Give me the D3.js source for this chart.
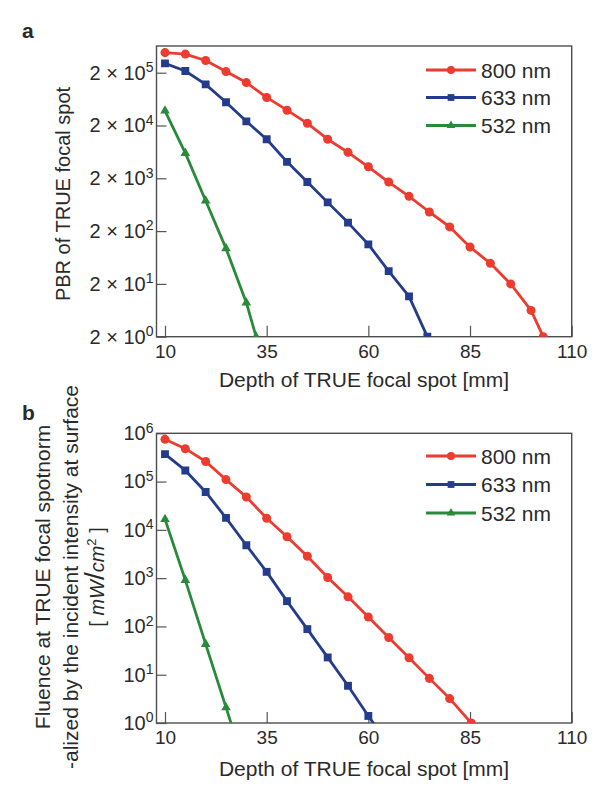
<!DOCTYPE html>
<html><head><meta charset="utf-8">
<script src="https://cdn.jsdelivr.net/npm/d3@7"></script>
<style>
body{margin:0;background:#fff}
svg{display:block}
text{font-family:"Liberation Sans",Arial,sans-serif;fill:#2a2a2a}
</style>
</head><body>
<svg id="chart" width="609" height="797"></svg>
<script>
// ---------- data ----------
const depthTicks = [10, 35, 60, 85, 110];
const seriesNames = ["800 nm", "633 nm", "532 nm"];
const seriesColors = ["#ec3b2f", "#243c8c", "#2a8a3b"];
const seriesShapes = ["circle", "square", "triangle"];

// panel a : PBR of TRUE focal spot
const pbrTickValues = [2, 20, 200, 2000, 20000, 200000];
const pbrTickExponents = ["0", "1", "2", "3", "4", "5"];
const depthA800 = [10,15,20,25,30,35,40,45,50,55,60,65,70,75,80,85,90,95,100,103];
const pbrA800 = [4.8e5,4.5e5,3.4e5,2.1e5,1.3e5,6.8e4,3.9e4,2.2e4,1.1e4,6.2e3,3.3e3,1.7e3,910,460,240,100,49,20,6.3,2];
const depthA633 = [10,15,20,25,30,35,40,45,50,55,60,65,70,74.5];
const pbrA633 = [3.0e5,2.15e5,1.2e5,5.5e4,2.4e4,1.1e4,4.1e3,1.7e3,700,290,112,35,11.6,2];
const depthA532 = [10,15,20,25,30,32.4];
const pbrA532 = [3.8e4,6.0e3,750,94,8.8,2];

// panel b : normalized fluence
const fluenceTickValues = [1, 10, 100, 1000, 1e4, 1e5, 1e6];
const fluenceTickExponents = ["0", "1", "2", "3", "4", "5", "6"];
const depthB800 = [10,15,20,25,30,35,40,45,50,55,60,65,70,75,80,85.3];
const fluenceB800 = [7.5e5,4.8e5,2.6e5,1.1e5,4.8e4,1.74e4,7.2e3,2.85e3,1.03e3,410,156,59,22.5,8.4,3.2,1];
const depthB633 = [10,15,20,25,30,35,40,45,50,55,60,65];
const fluenceB633 = [3.7e5,1.7e5,6.1e4,1.77e4,4.8e3,1.35e3,334,88,22.8,5.9,1.4,0.35];
const depthB532 = [10,15,20,25,30];
const fluenceB532 = [1.66e4,910,43,2.1,0.1];

// ---------- drawing ----------
const svg = d3.select("#chart");

function markerPath(shape, big) {
  const type = shape === "circle" ? d3.symbolCircle : shape === "square" ? d3.symbolSquare : d3.symbolTriangle;
  const size = shape === "circle" ? (big ? 64 : 50) : shape === "square" ? (big ? 62 : 46) : (big ? 40 : 32);
  return d3.symbol().type(type).size(size)();
}

function drawPanel(cfg) {
  const g = svg.append("g");
  const x = d3.scaleLinear().domain([10, 110]).range([165, 571.7]);
  const y = d3.scaleLog().domain(cfg.yDomain).range(cfg.yRange);
  const left = 156.5, right = 571.7, top = cfg.top, bottom = cfg.yRange[0];

  const clipId = "clip" + cfg.id;
  g.append("clipPath").attr("id", clipId)
    .append("rect").attr("x", left).attr("y", top).attr("width", right - left).attr("height", bottom - top);

  // axes (inward ticks)
  const xAxis = d3.axisBottom(x).tickValues(depthTicks).tickSizeInner(-11).tickSizeOuter(0).tickPadding(8);
  const gx = g.append("g").attr("transform", `translate(0,${bottom})`).call(xAxis);
  gx.select(".domain").remove();
  gx.selectAll("line").attr("stroke", "#555").attr("stroke-width", 1.2);
  gx.selectAll("text").attr("font-size", 19).attr("fill", "#2a2a2a")
    .attr("font-family", '"Liberation Sans",Arial,sans-serif');

  const yAxis = d3.axisLeft(y).tickValues(cfg.yTicks).tickSizeInner(-10).tickSizeOuter(0).tickPadding(3).tickFormat(() => "");
  const gy = g.append("g").attr("transform", `translate(${left},0)`).call(yAxis);
  gy.select(".domain").remove();
  gy.selectAll("line").attr("stroke", "#555").attr("stroke-width", 1.2);
  gy.selectAll(".tick text").each(function(d, i) {
    const t = d3.select(this).attr("font-size", 20).attr("fill", "#2a2a2a")
      .attr("font-family", '"Liberation Sans",Arial,sans-serif').attr("x", -3).attr("dy", "0.32em");
    t.text(null);
    t.append("tspan").text(cfg.tickPrefix + "10");
    t.append("tspan").attr("font-size", 14).attr("dy", "-0.55em").text(cfg.yExps[i]);
  });

  // frame
  g.append("rect").attr("x", left).attr("y", top).attr("width", right - left).attr("height", bottom - top)
    .attr("fill", "none").attr("stroke", "#4d4d4d").attr("stroke-width", 1.4);

  // series
  const plot = g.append("g").attr("clip-path", `url(#${clipId})`);
  const line = d3.line().x(d => x(d[0])).y(d => y(d[1]));
  cfg.series.forEach((s, k) => {
    const pts = s.xs.map((v, j) => [v, s.ys[j]]);
    plot.append("path").datum(pts).attr("d", line)
      .attr("fill", "none").attr("stroke", seriesColors[k]).attr("stroke-width", 2.8)
      .attr("stroke-linejoin", "round");
    plot.selectAll(null).data(pts).enter().append("path")
      .attr("d", markerPath(seriesShapes[k], true))
      .attr("transform", d => `translate(${x(d[0])},${y(d[1])})`)
      .attr("fill", seriesColors[k]);
  });

  // legend
  seriesNames.forEach((name, k) => {
    const ly = cfg.legendY[k];
    g.append("line").attr("x1", 426).attr("x2", 476).attr("y1", ly).attr("y2", ly)
      .attr("stroke", seriesColors[k]).attr("stroke-width", 2.8);
    g.append("path").attr("d", markerPath(seriesShapes[k], false))
      .attr("transform", `translate(451,${ly})`).attr("fill", seriesColors[k]);
    g.append("text").attr("x", 481).attr("y", ly + 7.5).attr("font-size", 21).text(name);
  });

  // x title
  g.append("text").attr("x", 364).attr("y", cfg.xTitleY).attr("text-anchor", "middle")
    .attr("font-size", 21).text("Depth of TRUE focal spot [mm]");

  // panel letter
  g.append("text").attr("x", cfg.letterX).attr("y", cfg.letterY).attr("font-size", 21)
    .attr("font-weight", "bold").attr("fill", "#111").text(cfg.id);
  return g;
}

const ga = drawPanel({
  id: "a", top: 46, yDomain: [2, 2e5], yRange: [336.7, 72.7], yTicks: pbrTickValues,
  yExps: pbrTickExponents, tickPrefix: "2 \u00D7 ",
  series: [{xs: depthA800, ys: pbrA800}, {xs: depthA633, ys: pbrA633}, {xs: depthA532, ys: pbrA532}],
  legendY: [70, 97.5, 125.5], xTitleY: 387, letterX: 22, letterY: 38
});
ga.append("text").attr("transform", "translate(70,194) rotate(-90)").attr("text-anchor", "middle")
  .attr("font-size", 20).text("PBR of TRUE focal spot");

const gb = drawPanel({
  id: "b", top: 433.3, yDomain: [1, 1e6], yRange: [723, 433.3], yTicks: fluenceTickValues,
  yExps: fluenceTickExponents, tickPrefix: "",
  series: [{xs: depthB800, ys: fluenceB800}, {xs: depthB633, ys: fluenceB633}, {xs: depthB532, ys: fluenceB532}],
  legendY: [456, 484.5, 513], xTitleY: 776, letterX: 22, letterY: 420
});
gb.append("text").attr("transform", "translate(50,577) rotate(-90)").attr("text-anchor", "middle")
  .attr("font-size", 21).text("Fluence at TRUE focal spotnorm");
gb.append("text").attr("transform", "translate(78,577) rotate(-90)").attr("text-anchor", "middle")
  .attr("font-size", 21).text("-alized by the incident intensity at surface");
const unit = gb.append("text").attr("transform", "translate(104,577) rotate(-90)").attr("text-anchor", "middle")
  .attr("font-size", 20).attr("font-family", '"Liberation Serif","DejaVu Serif",serif');
unit.append("tspan").text("[ ");
unit.append("tspan").attr("font-style", "italic").text("mW");
unit.append("tspan").attr("font-size", 28).text("/");
unit.append("tspan").attr("font-style", "italic").text("cm");
unit.append("tspan").attr("font-size", 13).attr("dy", "-0.6em").text("2");
unit.append("tspan").attr("dy", "0.4em").text(" ]");
</script>
</body></html>
